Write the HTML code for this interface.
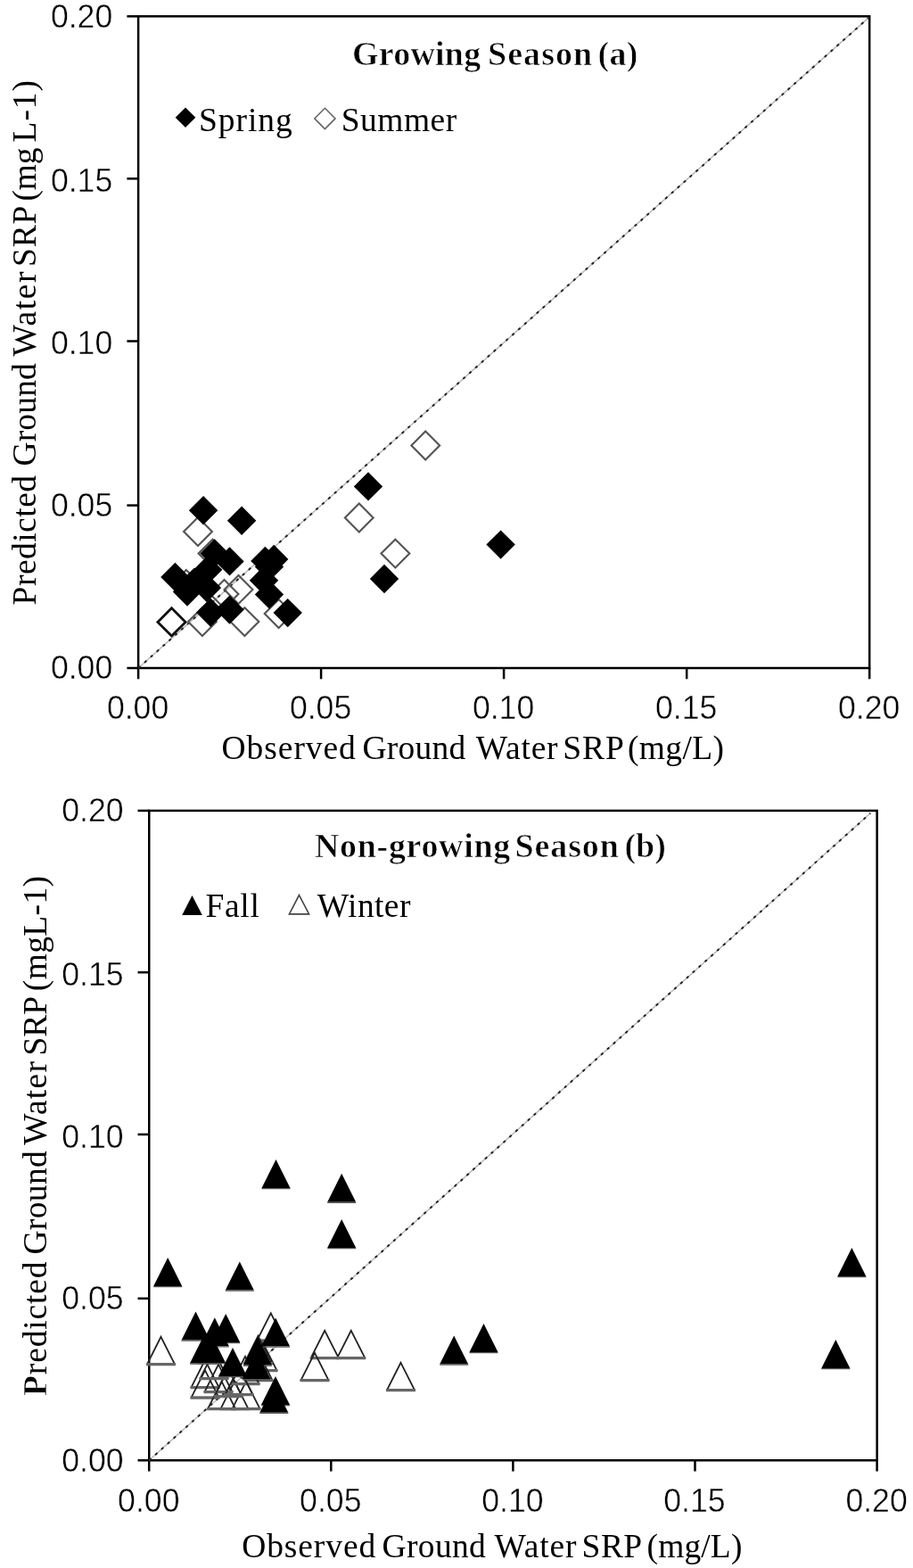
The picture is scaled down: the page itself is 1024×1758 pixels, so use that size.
<!DOCTYPE html>
<html lang="en"><head><meta charset="utf-8"><title>Predicted vs observed ground water SRP</title>
<style>html,body{margin:0;padding:0;background:#fff}svg{display:block}.tk{font-family:"Liberation Sans",sans-serif;font-size:36.3px;fill:#000;stroke:#fff;stroke-width:0.45px}.sf{font-family:"Liberation Serif",serif;font-size:37.5px;fill:#000}.b{font-weight:bold;font-size:38px;stroke:#fff;stroke-width:0.7px}</style></head><body>
<svg width="1024" height="1758" viewBox="0 0 1024 1758">
<rect x="0" y="0" width="1024" height="1758" fill="#fff"/>
<rect x="155.1" y="18.3" width="820.1" height="730.7" fill="none" stroke="#000" stroke-width="2.5"/>
<line x1="155.1" y1="749.0" x2="155.1" y2="761.3" stroke="#000" stroke-width="2.5"/>
<line x1="142.4" y1="749.0" x2="155.1" y2="749.0" stroke="#000" stroke-width="2.5"/>
<text class="tk" x="119.9" y="806.4" textLength="69.4" lengthAdjust="spacingAndGlyphs">0.00</text>
<text class="tk" x="56.9" y="761.4" textLength="69.4" lengthAdjust="spacingAndGlyphs">0.00</text>
<line x1="360.1" y1="749.0" x2="360.1" y2="761.3" stroke="#000" stroke-width="2.5"/>
<line x1="142.4" y1="566.6" x2="155.1" y2="566.6" stroke="#000" stroke-width="2.5"/>
<text class="tk" x="324.9" y="806.4" textLength="69.4" lengthAdjust="spacingAndGlyphs">0.05</text>
<text class="tk" x="56.9" y="579.2" textLength="69.4" lengthAdjust="spacingAndGlyphs">0.05</text>
<line x1="565.1" y1="749.0" x2="565.1" y2="761.3" stroke="#000" stroke-width="2.5"/>
<line x1="142.4" y1="382.5" x2="155.1" y2="382.5" stroke="#000" stroke-width="2.5"/>
<text class="tk" x="529.9" y="806.4" textLength="69.4" lengthAdjust="spacingAndGlyphs">0.10</text>
<text class="tk" x="56.9" y="397.4" textLength="69.4" lengthAdjust="spacingAndGlyphs">0.10</text>
<line x1="770.2" y1="749.0" x2="770.2" y2="761.3" stroke="#000" stroke-width="2.5"/>
<line x1="142.4" y1="200.3" x2="155.1" y2="200.3" stroke="#000" stroke-width="2.5"/>
<text class="tk" x="735.0" y="806.4" textLength="69.4" lengthAdjust="spacingAndGlyphs">0.15</text>
<text class="tk" x="56.9" y="215.1" textLength="69.4" lengthAdjust="spacingAndGlyphs">0.15</text>
<line x1="975.2" y1="749.0" x2="975.2" y2="761.3" stroke="#000" stroke-width="2.5"/>
<line x1="142.4" y1="18.3" x2="155.1" y2="18.3" stroke="#000" stroke-width="2.5"/>
<text class="tk" x="940.0" y="806.4" textLength="69.4" lengthAdjust="spacingAndGlyphs">0.20</text>
<text class="tk" x="56.9" y="30.7" textLength="69.4" lengthAdjust="spacingAndGlyphs">0.20</text>
<line x1="155.1" y1="749.0" x2="974.6" y2="19.6" stroke="#b8b8b8" stroke-width="1.5"/>
<line x1="155.1" y1="749.0" x2="974.6" y2="19.6" stroke="#222" stroke-width="2" stroke-dasharray="3.2 6"/>
<text class="sf b" y="73.3"><tspan x="395.00" textLength="144.20" lengthAdjust="spacing">Growing</tspan> <tspan x="547.00" textLength="117.20" lengthAdjust="spacing">Season</tspan> <tspan x="670.40" textLength="45.00" lengthAdjust="spacing">(a)</tspan></text>
<text class="sf" y="146.8"><tspan x="223.00" textLength="104.80" lengthAdjust="spacing">Spring</tspan></text>
<text class="sf" y="146.8"><tspan x="382.80" textLength="129.40" lengthAdjust="spacing">Summer</tspan></text>
<text class="sf" y="851"><tspan x="248.60" textLength="150.20" lengthAdjust="spacing">Observed</tspan> <tspan x="406.40" textLength="115.80" lengthAdjust="spacing">Ground</tspan> <tspan x="533.80" textLength="91.80" lengthAdjust="spacing">Water</tspan> <tspan x="631.20" textLength="67.20" lengthAdjust="spacing">SRP</tspan> <tspan x="704.00" textLength="108.00" lengthAdjust="spacing">(mg/L)</tspan></text>
<text class="sf" transform="translate(39.6,0) rotate(-90)" y="0"><tspan x="-678.40" textLength="145.40" lengthAdjust="spacing">Predicted</tspan> <tspan x="-522.60" textLength="115.40" lengthAdjust="spacing">Ground</tspan> <tspan x="-399.40" textLength="94.80" lengthAdjust="spacing">Water</tspan> <tspan x="-299.00" textLength="67.00" lengthAdjust="spacing">SRP</tspan> <tspan x="-225.40" textLength="59.80" lengthAdjust="spacing">(mg</tspan> <tspan x="-159.40" textLength="69.40" lengthAdjust="spacing">L-1)</tspan></text>
<path d="M208.0 120.5L219.3 131.8L208.0 143.1L196.7 131.8Z" fill="#000"/>
<path d="M364.4 121.3L376.0 132.9L364.4 144.5L352.8 132.9Z" fill="none" stroke="#666" stroke-width="1.6"/>
<path d="M477.2 483.6L493.1 499.5L477.2 515.4L461.4 499.5Z" fill="none" stroke="#555" stroke-width="2.15"/>
<path d="M402.8 564.6L418.6 580.5L402.8 596.4L386.9 580.5Z" fill="none" stroke="#555" stroke-width="2.15"/>
<path d="M443.4 604.7L459.3 620.6L443.4 636.5L427.5 620.6Z" fill="none" stroke="#555" stroke-width="2.15"/>
<path d="M222.0 580.1L237.9 596.0L222.0 611.9L206.1 596.0Z" fill="none" stroke="#555" stroke-width="2.15"/>
<path d="M238.5 604.7L254.4 620.6L238.5 636.5L222.6 620.6Z" fill="none" stroke="#555" stroke-width="2.15"/>
<path d="M226.9 681.2L242.8 697.1L226.9 713.0L211.0 697.1Z" fill="none" stroke="#555" stroke-width="2.15"/>
<path d="M274.4 681.2L290.3 697.1L274.4 713.0L258.5 697.1Z" fill="none" stroke="#555" stroke-width="2.15"/>
<path d="M312.6 672.1L328.5 688.0L312.6 703.9L296.7 688.0Z" fill="none" stroke="#555" stroke-width="2.15"/>
<path d="M267.5 645.1L283.4 661.0L267.5 676.9L251.6 661.0Z" fill="none" stroke="#555" stroke-width="2.15"/>
<path d="M251.5 650.1L267.4 666.0L251.5 681.9L235.6 666.0Z" fill="none" stroke="#555" stroke-width="2.15"/>
<path d="M208.8 639.1L224.7 655.0L208.8 670.9L192.8 655.0Z" fill="none" stroke="#555" stroke-width="2.15"/>
<path d="M192.5 681.8L208.1 697.4L192.5 713.0L176.9 697.4Z" fill="none" stroke="#111" stroke-width="2.8"/>
<path d="M228.1 556.0L244.3 572.2L228.1 588.5L211.9 572.2Z" fill="#000"/>
<path d="M271.1 567.5L287.3 583.8L271.1 600.0L254.9 583.8Z" fill="#000"/>
<path d="M240.6 604.2L256.8 620.4L240.6 636.6L224.4 620.4Z" fill="#000"/>
<path d="M257.5 613.2L273.7 629.4L257.5 645.6L241.3 629.4Z" fill="#000"/>
<path d="M196.4 630.8L212.6 647.0L196.4 663.2L180.2 647.0Z" fill="#000"/>
<path d="M233.2 622.5L249.4 638.8L233.2 655.0L217.0 638.8Z" fill="#000"/>
<path d="M210.0 647.4L226.2 663.6L210.0 679.8L193.8 663.6Z" fill="#000"/>
<path d="M218.0 636.4L234.2 652.6L218.0 668.8L201.8 652.6Z" fill="#000"/>
<path d="M231.9 642.8L248.1 659.0L231.9 675.2L215.7 659.0Z" fill="#000"/>
<path d="M236.2 670.5L252.4 686.8L236.2 703.0L220.1 686.8Z" fill="#000"/>
<path d="M257.5 667.4L273.7 683.6L257.5 699.8L241.3 683.6Z" fill="#000"/>
<path d="M297.4 612.7L313.6 628.9L297.4 645.1L281.2 628.9Z" fill="#000"/>
<path d="M307.2 610.8L323.4 627.0L307.2 643.2L291.1 627.0Z" fill="#000"/>
<path d="M302.0 619.2L318.2 635.4L302.0 651.6L285.8 635.4Z" fill="#000"/>
<path d="M296.0 634.6L312.2 650.8L296.0 667.0L279.8 650.8Z" fill="#000"/>
<path d="M302.0 650.3L318.2 666.5L302.0 682.7L285.8 666.5Z" fill="#000"/>
<path d="M322.7 670.9L338.9 687.1L322.7 703.3L306.5 687.1Z" fill="#000"/>
<path d="M413.0 529.2L429.2 545.4L413.0 561.6L396.8 545.4Z" fill="#000"/>
<path d="M431.0 632.8L447.2 649.0L431.0 665.2L414.8 649.0Z" fill="#000"/>
<path d="M561.6 594.4L577.8 610.6L561.6 626.8L545.4 610.6Z" fill="#000"/>
<rect x="167.25" y="908.9" width="816.4" height="728.4" fill="none" stroke="#000" stroke-width="2.5"/>
<line x1="167.2" y1="1637.3" x2="167.2" y2="1649.6" stroke="#000" stroke-width="2.5"/>
<line x1="154.55" y1="1637.3" x2="167.25" y2="1637.3" stroke="#000" stroke-width="2.5"/>
<text class="tk" x="132.1" y="1694.6" textLength="69.4" lengthAdjust="spacingAndGlyphs">0.00</text>
<text class="tk" x="69.2" y="1649.8" textLength="69.4" lengthAdjust="spacingAndGlyphs">0.00</text>
<line x1="371.3" y1="1637.3" x2="371.3" y2="1649.6" stroke="#000" stroke-width="2.5"/>
<line x1="154.55" y1="1455.8" x2="167.25" y2="1455.8" stroke="#000" stroke-width="2.5"/>
<text class="tk" x="336.1" y="1694.6" textLength="69.4" lengthAdjust="spacingAndGlyphs">0.05</text>
<text class="tk" x="69.2" y="1468.2" textLength="69.4" lengthAdjust="spacingAndGlyphs">0.05</text>
<line x1="575.4" y1="1637.3" x2="575.4" y2="1649.6" stroke="#000" stroke-width="2.5"/>
<line x1="154.55" y1="1271.9" x2="167.25" y2="1271.9" stroke="#000" stroke-width="2.5"/>
<text class="tk" x="540.2" y="1694.6" textLength="69.4" lengthAdjust="spacingAndGlyphs">0.10</text>
<text class="tk" x="69.2" y="1287.0" textLength="69.4" lengthAdjust="spacingAndGlyphs">0.10</text>
<line x1="779.5" y1="1637.3" x2="779.5" y2="1649.6" stroke="#000" stroke-width="2.5"/>
<line x1="154.55" y1="1090.2" x2="167.25" y2="1090.2" stroke="#000" stroke-width="2.5"/>
<text class="tk" x="744.3" y="1694.6" textLength="69.4" lengthAdjust="spacingAndGlyphs">0.15</text>
<text class="tk" x="69.2" y="1105.1" textLength="69.4" lengthAdjust="spacingAndGlyphs">0.15</text>
<line x1="983.6" y1="1637.3" x2="983.6" y2="1649.6" stroke="#000" stroke-width="2.5"/>
<line x1="154.55" y1="908.9" x2="167.25" y2="908.9" stroke="#000" stroke-width="2.5"/>
<text class="tk" x="948.4" y="1694.6" textLength="69.4" lengthAdjust="spacingAndGlyphs">0.20</text>
<text class="tk" x="69.2" y="921.4" textLength="69.4" lengthAdjust="spacingAndGlyphs">0.20</text>
<line x1="167.25" y1="1637.3" x2="976.2" y2="911.8" stroke="#b8b8b8" stroke-width="1.5"/>
<line x1="167.25" y1="1637.3" x2="976.2" y2="911.8" stroke="#222" stroke-width="2" stroke-dasharray="3.2 6"/>
<text class="sf b" y="961.2"><tspan x="353.00" textLength="219.20" lengthAdjust="spacing">Non-growing</tspan> <tspan x="577.60" textLength="116.20" lengthAdjust="spacing">Season</tspan> <tspan x="700.40" textLength="46.40" lengthAdjust="spacing">(b)</tspan></text>
<text class="sf" y="1027.6"><tspan x="230.60" textLength="60.20" lengthAdjust="spacing">Fall</tspan></text>
<text class="sf" y="1027.6"><tspan x="355.80" textLength="104.60" lengthAdjust="spacing">Winter</tspan></text>
<text class="sf" y="1746"><tspan x="271.20" textLength="150.00" lengthAdjust="spacing">Observed</tspan> <tspan x="428.60" textLength="116.20" lengthAdjust="spacing">Ground</tspan> <tspan x="554.60" textLength="91.80" lengthAdjust="spacing">Water</tspan> <tspan x="652.60" textLength="66.20" lengthAdjust="spacing">SRP</tspan> <tspan x="725.60" textLength="106.80" lengthAdjust="spacing">(mg/L)</tspan></text>
<text class="sf" transform="translate(51.6,0) rotate(-90)" y="0"><tspan x="-1565.20" textLength="150.80" lengthAdjust="spacing"><tspan class="b">P</tspan>redicted</tspan> <tspan x="-1406.60" textLength="116.40" lengthAdjust="spacing">Ground</tspan> <tspan x="-1283.80" textLength="93.80" lengthAdjust="spacing">Water</tspan> <tspan x="-1183.60" textLength="65.20" lengthAdjust="spacing">SRP</tspan> <tspan x="-1111.20" textLength="129.20" lengthAdjust="spacing">(mgL-1)</tspan></text>
<path d="M215.5 1004L226.8 1025.9L204.2 1025.9Z" fill="#000"/>
<path d="M335.5 1003.6L346.6 1024.9L324.4 1024.9Z" fill="none" stroke="#444" stroke-width="1.6"/>
<path d="M180.5 1498.8L195.8 1529.2L165.2 1529.2Z" fill="none" stroke="#222" stroke-width="1.8" stroke-linejoin="miter"/>
<line x1="164.0" y1="1529.6" x2="197.0" y2="1529.6" stroke="#666" stroke-width="3.4"/>
<path d="M303.8 1472.3L319.1 1502.7L288.4 1502.7Z" fill="none" stroke="#222" stroke-width="1.8" stroke-linejoin="miter"/>
<line x1="287.2" y1="1503.1" x2="320.2" y2="1503.1" stroke="#666" stroke-width="3.4"/>
<path d="M364.2 1491.8L379.6 1522.2L348.9 1522.2Z" fill="none" stroke="#222" stroke-width="1.8" stroke-linejoin="miter"/>
<line x1="347.8" y1="1522.6" x2="380.8" y2="1522.6" stroke="#666" stroke-width="3.4"/>
<path d="M393.8 1491.8L409.1 1522.2L378.4 1522.2Z" fill="none" stroke="#222" stroke-width="1.8" stroke-linejoin="miter"/>
<line x1="377.2" y1="1522.6" x2="410.2" y2="1522.6" stroke="#666" stroke-width="3.4"/>
<path d="M353.0 1516.8L368.3 1547.2L337.7 1547.2Z" fill="none" stroke="#222" stroke-width="1.8" stroke-linejoin="miter"/>
<line x1="336.5" y1="1547.6" x2="369.5" y2="1547.6" stroke="#666" stroke-width="3.4"/>
<path d="M449.5 1527.8L464.8 1558.2L434.2 1558.2Z" fill="none" stroke="#222" stroke-width="1.8" stroke-linejoin="miter"/>
<line x1="433.0" y1="1558.6" x2="466.0" y2="1558.6" stroke="#666" stroke-width="3.4"/>
<path d="M230.0 1524.8L245.3 1555.2L214.7 1555.2Z" fill="none" stroke="#222" stroke-width="1.8" stroke-linejoin="miter"/>
<line x1="213.5" y1="1555.6" x2="246.5" y2="1555.6" stroke="#666" stroke-width="3.4"/>
<path d="M230.0 1536.3L245.3 1566.7L214.7 1566.7Z" fill="none" stroke="#222" stroke-width="1.8" stroke-linejoin="miter"/>
<line x1="213.5" y1="1567.1" x2="246.5" y2="1567.1" stroke="#666" stroke-width="3.4"/>
<path d="M248.6 1548.8L263.9 1579.2L233.3 1579.2Z" fill="none" stroke="#222" stroke-width="1.8" stroke-linejoin="miter"/>
<line x1="232.1" y1="1579.6" x2="265.1" y2="1579.6" stroke="#666" stroke-width="3.4"/>
<path d="M263.0 1548.8L278.3 1579.2L247.7 1579.2Z" fill="none" stroke="#222" stroke-width="1.8" stroke-linejoin="miter"/>
<line x1="246.5" y1="1579.6" x2="279.5" y2="1579.6" stroke="#666" stroke-width="3.4"/>
<path d="M276.0 1548.8L291.3 1579.2L260.7 1579.2Z" fill="none" stroke="#222" stroke-width="1.8" stroke-linejoin="miter"/>
<line x1="259.5" y1="1579.6" x2="292.5" y2="1579.6" stroke="#666" stroke-width="3.4"/>
<path d="M245.0 1529.8L260.3 1560.2L229.7 1560.2Z" fill="none" stroke="#222" stroke-width="1.8" stroke-linejoin="miter"/>
<line x1="228.5" y1="1560.6" x2="261.5" y2="1560.6" stroke="#666" stroke-width="3.4"/>
<path d="M256.0 1534.8L271.3 1565.2L240.7 1565.2Z" fill="none" stroke="#222" stroke-width="1.8" stroke-linejoin="miter"/>
<line x1="239.5" y1="1565.6" x2="272.5" y2="1565.6" stroke="#666" stroke-width="3.4"/>
<path d="M295.0 1505.8L310.3 1536.2L279.7 1536.2Z" fill="none" stroke="#222" stroke-width="1.8" stroke-linejoin="miter"/>
<line x1="278.5" y1="1536.6" x2="311.5" y2="1536.6" stroke="#666" stroke-width="3.4"/>
<path d="M289.5 1497.8L304.8 1528.2L274.2 1528.2Z" fill="none" stroke="#222" stroke-width="1.8" stroke-linejoin="miter"/>
<line x1="273.0" y1="1528.6" x2="306.0" y2="1528.6" stroke="#666" stroke-width="3.4"/>
<path d="M290.0 1516.8L305.3 1547.2L274.7 1547.2Z" fill="none" stroke="#222" stroke-width="1.8" stroke-linejoin="miter"/>
<line x1="273.5" y1="1547.6" x2="306.5" y2="1547.6" stroke="#666" stroke-width="3.4"/>
<path d="M275.0 1520.8L290.3 1551.2L259.7 1551.2Z" fill="none" stroke="#222" stroke-width="1.8" stroke-linejoin="miter"/>
<line x1="258.5" y1="1551.6" x2="291.5" y2="1551.6" stroke="#666" stroke-width="3.4"/>
<path d="M240.0 1514.8L255.3 1545.2L224.7 1545.2Z" fill="none" stroke="#222" stroke-width="1.8" stroke-linejoin="miter"/>
<line x1="223.5" y1="1545.6" x2="256.5" y2="1545.6" stroke="#666" stroke-width="3.4"/>
<path d="M268.0 1532.8L283.3 1563.2L252.7 1563.2Z" fill="none" stroke="#222" stroke-width="1.8" stroke-linejoin="miter"/>
<line x1="251.5" y1="1563.6" x2="284.5" y2="1563.6" stroke="#666" stroke-width="3.4"/>
<path d="M309.5 1300.0L325.5 1332.0L293.5 1332.0Z" fill="#000"/>
<line x1="293.5" y1="1332.6" x2="325.5" y2="1332.6" stroke="#555" stroke-width="1.4"/>
<path d="M383.2 1315.8L399.2 1347.8L367.2 1347.8Z" fill="#000"/>
<line x1="367.2" y1="1348.3" x2="399.2" y2="1348.3" stroke="#555" stroke-width="1.4"/>
<path d="M383.2 1367.0L399.2 1399.0L367.2 1399.0Z" fill="#000"/>
<line x1="367.2" y1="1399.6" x2="399.2" y2="1399.6" stroke="#555" stroke-width="1.4"/>
<path d="M188.2 1410.0L204.2 1442.0L172.2 1442.0Z" fill="#000"/>
<line x1="172.2" y1="1442.6" x2="204.2" y2="1442.6" stroke="#555" stroke-width="1.4"/>
<path d="M268.8 1414.5L284.8 1446.5L252.8 1446.5Z" fill="#000"/>
<line x1="252.8" y1="1447.1" x2="284.8" y2="1447.1" stroke="#555" stroke-width="1.4"/>
<path d="M219.5 1470.5L235.5 1502.5L203.5 1502.5Z" fill="#000"/>
<line x1="203.5" y1="1503.1" x2="235.5" y2="1503.1" stroke="#555" stroke-width="1.4"/>
<path d="M253.2 1473.0L269.2 1505.0L237.2 1505.0Z" fill="#000"/>
<line x1="237.2" y1="1505.6" x2="269.2" y2="1505.6" stroke="#555" stroke-width="1.4"/>
<path d="M240.8 1477.3L256.8 1509.3L224.8 1509.3Z" fill="#000"/>
<line x1="224.8" y1="1509.9" x2="256.8" y2="1509.9" stroke="#555" stroke-width="1.4"/>
<path d="M309.1 1477.5L325.1 1509.5L293.1 1509.5Z" fill="#000"/>
<line x1="293.1" y1="1510.1" x2="325.1" y2="1510.1" stroke="#555" stroke-width="1.4"/>
<path d="M229.0 1496.5L245.0 1528.5L213.0 1528.5Z" fill="#000"/>
<line x1="213.0" y1="1529.1" x2="245.0" y2="1529.1" stroke="#555" stroke-width="1.4"/>
<path d="M237.0 1496.0L253.0 1528.0L221.0 1528.0Z" fill="#000"/>
<line x1="221.0" y1="1528.6" x2="253.0" y2="1528.6" stroke="#555" stroke-width="1.4"/>
<path d="M261.0 1511.0L277.0 1543.0L245.0 1543.0Z" fill="#000"/>
<line x1="245.0" y1="1543.6" x2="277.0" y2="1543.6" stroke="#555" stroke-width="1.4"/>
<path d="M289.0 1498.5L305.0 1530.5L273.0 1530.5Z" fill="#000"/>
<line x1="273.0" y1="1531.1" x2="305.0" y2="1531.1" stroke="#555" stroke-width="1.4"/>
<path d="M287.5 1514.0L303.5 1546.0L271.5 1546.0Z" fill="#000"/>
<line x1="271.5" y1="1546.6" x2="303.5" y2="1546.6" stroke="#555" stroke-width="1.4"/>
<path d="M309.0 1543.0L325.0 1575.0L293.0 1575.0Z" fill="#000"/>
<line x1="293.0" y1="1575.6" x2="325.0" y2="1575.6" stroke="#555" stroke-width="1.4"/>
<path d="M307.3 1551.8L323.3 1583.8L291.3 1583.8Z" fill="#000"/>
<line x1="291.3" y1="1584.3" x2="323.3" y2="1584.3" stroke="#555" stroke-width="1.4"/>
<path d="M509.2 1497.5L525.2 1529.5L493.2 1529.5Z" fill="#000"/>
<line x1="493.2" y1="1530.1" x2="525.2" y2="1530.1" stroke="#555" stroke-width="1.4"/>
<path d="M542.5 1484.0L558.5 1516.0L526.5 1516.0Z" fill="#000"/>
<line x1="526.5" y1="1516.6" x2="558.5" y2="1516.6" stroke="#555" stroke-width="1.4"/>
<path d="M955.4 1399.0L971.4 1431.0L939.4 1431.0Z" fill="#000"/>
<line x1="939.4" y1="1431.6" x2="971.4" y2="1431.6" stroke="#555" stroke-width="1.4"/>
<path d="M937.3 1502.0L953.3 1534.0L921.3 1534.0Z" fill="#000"/>
<line x1="921.3" y1="1534.6" x2="953.3" y2="1534.6" stroke="#555" stroke-width="1.4"/>
</svg></body></html>
